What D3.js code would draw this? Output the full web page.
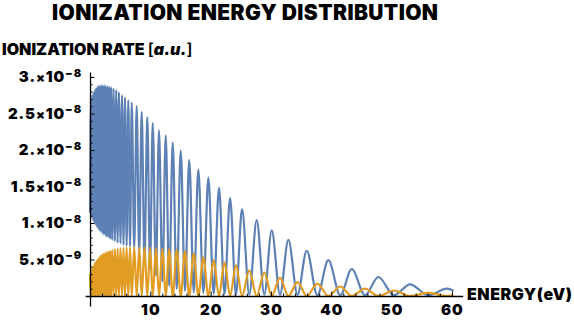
<!DOCTYPE html>
<html>
<head>
<meta charset="utf-8">
<script src="https://cdn.jsdelivr.net/npm/d3@7"></script>
<style>
  body { margin: 0; background: #fff; }
  text { font-family: Inter, Lato, Roboto, "Liberation Sans", sans-serif; font-weight: 900; fill: #000; }
</style>
</head>
<body>
<svg id="chart" width="574" height="327"></svg>
<script>
// Ionization rate vs. photoelectron energy, two channels.
// Energies in eV; rates in units of 1e-8 (arbitrary units).
const RATE_UNIT = 1e-8;

// Energies of the blue maxima (= orange minima)
const blueMaxE = [0.15, 0.4, 0.65, 0.9, 1.15, 1.4, 1.65, 1.9, 2.15, 2.4, 2.65, 2.9,
  3.2, 3.5, 3.9, 4.35, 4.8, 5.3, 5.8, 6.35, 6.92,
  7.74, 8.57, 9.5, 10.4, 11.44, 12.55, 13.71, 15.04, 16.45, 17.96, 19.62, 21.39,
  23.22, 25.21, 27.64, 30.13, 32.89, 35.94, 39.52, 43.4, 47.81, 53.07, 59.2];
// Energies of the blue minima (= orange maxima), including both curve ends
const blueMinE = [0.0, 0.27, 0.52, 0.77, 1.02, 1.27, 1.52, 1.77, 2.02, 2.27, 2.52, 2.77,
  3.05, 3.35, 3.7, 4.12, 4.57, 5.05, 5.55, 6.07, 6.63,
  7.33, 8.15, 9.03, 9.95, 10.92, 12.0, 13.13, 14.37, 15.75, 17.2, 18.79, 20.5,
  22.3, 24.2, 26.4, 28.9, 31.5, 34.4, 37.7, 41.5, 45.6, 50.4, 56.1, 60.3];

const blueMaxV = [2.70, 2.76, 2.80, 2.84, 2.86, 2.88, 2.89, 2.89, 2.89, 2.89, 2.88, 2.88,
  2.87, 2.86, 2.84, 2.82, 2.79, 2.75, 2.72, 2.68, 2.65,
  2.60, 2.52, 2.45, 2.37, 2.27, 2.20, 2.10, 1.99, 1.86, 1.73, 1.62, 1.48,
  1.34, 1.19, 1.04, 0.90, 0.77, 0.62, 0.49, 0.37, 0.26, 0.16, 0.10];
const blueMinV = [1.14, 1.08, 1.03, 0.99, 0.96, 0.93, 0.90, 0.88, 0.86, 0.84, 0.83, 0.81,
  0.80, 0.78, 0.77, 0.75, 0.73, 0.72, 0.70, 0.69, 0.68,
  0.66, 0.58, 0.45, 0.36, 0.28, 0.20, 0.14, 0.10, 0.07, 0.05, 0.04, 0.03,
  0.03, 0.02, 0.02, 0.02, 0.02, 0.02, 0.01, 0.01, 0.01, 0.01, 0.01, 0.07];

const orangeMaxV = [0.30, 0.36, 0.41, 0.45, 0.48, 0.50, 0.53, 0.55, 0.57, 0.58, 0.59, 0.60,
  0.61, 0.62, 0.63, 0.64, 0.65, 0.655, 0.66, 0.665, 0.67,
  0.67, 0.67, 0.665, 0.66, 0.655, 0.65, 0.64, 0.63, 0.61, 0.58, 0.53, 0.49,
  0.46, 0.42, 0.35, 0.32, 0.25, 0.19, 0.17, 0.13, 0.10, 0.075, 0.045, 0.01];
const orangeMinV = [0, 0, 0, 0, 0, 0, 0, 0, 0, 0, 0, 0,
  0, 0, 0, 0, 0, 0, 0, 0, 0,
  0, 0, 0, 0, 0, 0, 0, 0, 0, 0, 0, 0,
  0, 0, 0, 0, 0, 0, 0, 0, 0, 0, 0];

// Axis ticks
const xMajorTicks = [10, 20, 30, 40, 50, 60];
const xMinorTicks = [2, 4, 6, 8, 12, 14, 16, 18, 22, 24, 26, 28, 32, 34, 36, 38, 42, 44, 46, 48, 52, 54, 56, 58];
const yMajorTicks = [0.5e-8, 1.0e-8, 1.5e-8, 2.0e-8, 2.5e-8, 3.0e-8];
const yTickMantissa = ["5.", "1.", "1.5", "2.", "2.5", "3."];
const yTickExponent = ["\u22129", "\u22128", "\u22128", "\u22128", "\u22128", "\u22128"];
const yMinorTicks = [1e-9, 2e-9, 3e-9, 4e-9, 6e-9, 7e-9, 8e-9, 9e-9, 11e-9, 12e-9, 13e-9, 14e-9,
  16e-9, 17e-9, 18e-9, 19e-9, 21e-9, 22e-9, 23e-9, 24e-9, 26e-9, 27e-9, 28e-9, 29e-9];

const svg = d3.select("#chart");
svg.append("rect").attr("width", 574).attr("height", 327).attr("fill", "#fff");

const x = d3.scaleLinear().domain([-0.8, 61.8]).range([85.2, 462.7]);
const y = d3.scaleLinear().domain([-0.137e-8, 3.068e-8]).range([306, 72]);

function series(maxE, maxV, minE, minV) {
  const pts = maxE.map((e, i) => [e, maxV[i] * RATE_UNIT])
    .concat(minE.map((e, i) => [e, minV[i] * RATE_UNIT]));
  return pts.sort((a, b) => a[0] - b[0]);
}
const line = d3.line().x(d => x(d[0])).y(d => y(d[1])).curve(d3.curveMonotoneX);

svg.append("path")
  .datum(series(blueMaxE, blueMaxV, blueMinE, blueMinV))
  .attr("d", line).attr("fill", "none")
  .attr("stroke", "#5E81B5").attr("stroke-width", 2.2).attr("stroke-linejoin", "round");

svg.append("path")
  .datum(series(blueMinE, orangeMaxV, blueMaxE, orangeMinV))
  .attr("d", line).attr("fill", "none")
  .attr("stroke", "#E19C24").attr("stroke-width", 2.2).attr("stroke-linejoin", "round");

// Minor ticks (no labels, no axis line)
svg.append("g").attr("class", "minor").attr("transform", `translate(0,${y(0)})`)
  .call(d3.axisBottom(x).tickValues(xMinorTicks).tickSizeInner(-2.5).tickSizeOuter(0).tickFormat(""))
  .call(g => g.select(".domain").remove())
  .call(g => g.selectAll("text").remove());
svg.append("g").attr("class", "minor").attr("transform", `translate(${x(0)},0)`)
  .call(d3.axisLeft(y).tickValues(yMinorTicks).tickSizeInner(-2.5).tickSizeOuter(0).tickFormat(""))
  .call(g => g.select(".domain").remove())
  .call(g => g.selectAll("text").remove());

// Major axes (ticks point into the plot)
const xAxisG = svg.append("g").attr("transform", `translate(0,${y(0)})`)
  .call(d3.axisBottom(x).tickValues(xMajorTicks).tickSizeInner(-4.5).tickSizeOuter(0).tickPadding(8)
    .tickFormat(d3.format("d")));
const yAxisG = svg.append("g").attr("transform", `translate(${x(0)},0)`)
  .call(d3.axisLeft(y).tickValues(yMajorTicks).tickSizeInner(-4.5).tickSizeOuter(0).tickPadding(8)
    .tickFormat(""));

svg.selectAll(".domain").attr("stroke", "#000").attr("stroke-width", 1.3);
svg.selectAll(".tick line").attr("stroke", "#000").attr("stroke-width", 1);

xAxisG.selectAll(".tick text")
  .style("font-family", "Inter, Lato, Roboto, sans-serif").style("font-weight", 900)
  .attr("font-size", 15).attr("letter-spacing", 1).attr("fill", "#000");

// Scientific-notation y labels: mantissa × 10^exponent
yAxisG.selectAll(".tick text").each(function (d, i) {
  const t = d3.select(this).text(null)
    .style("font-family", "Inter, Lato, Roboto, sans-serif").style("font-weight", 900)
    .attr("font-size", 15).attr("letter-spacing", 0.9).attr("fill", "#000").attr("x", -8);
  t.append("tspan").text(yTickMantissa[i]);
  t.append("tspan").attr("font-size", 13).text("\u00d7");
  t.append("tspan").text("10");
  t.append("tspan").attr("font-size", 11).attr("dy", "-0.5em").text(yTickExponent[i]);
});

// Titles
svg.append("text").attr("x", 52).attr("y", 20)
  .attr("font-size", 21).attr("textLength", 386).attr("lengthAdjust", "spacing")
  .text("IONIZATION ENERGY DISTRIBUTION");

const yl = svg.append("text").attr("x", 2).attr("y", 55).attr("font-size", 16);
yl.append("tspan").text("IONIZATION RATE ");
yl.append("tspan").style("font-weight", 600).text("[");
yl.append("tspan").style("font-style", "italic").text("a.u.");
yl.append("tspan").style("font-weight", 600).text("]");

svg.append("text").attr("x", 467).attr("y", 300).attr("font-size", 16)
  .attr("textLength", 105).attr("lengthAdjust", "spacing").text("ENERGY(eV)");
</script>
</body>
</html>
